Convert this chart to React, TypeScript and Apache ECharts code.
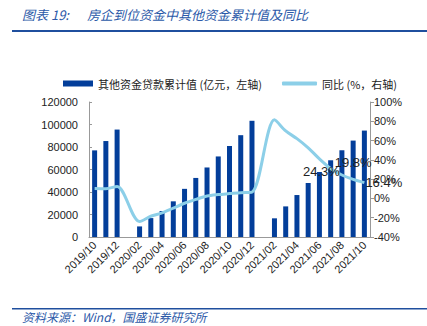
import React, { useEffect, useRef } from "react";
import * as echarts from "echarts";

const categories = [
  "2019/10", "2019/11", "2019/12", "2020/01", "2020/02", "2020/03", "2020/04",
  "2020/05", "2020/06", "2020/07", "2020/08", "2020/09", "2020/10", "2020/11",
  "2020/12", "2021/01", "2021/02", "2021/03", "2021/04", "2021/05", "2021/06",
  "2021/07", "2021/08", "2021/09", "2021/10",
];

const cumulativeValues: (number | null)[] = [
  77000, 85300, 95500, null, 9400, 16800, 23100, 31700, 42800, 52500, 61800,
  71600, 80900, 90500, 103300, null, 16600, 27200, 37300, 48000, 57800, 68200,
  77100, 85700, 94600,
];

const yoyValues: (number | null)[] = [
  10.2, 10, 12.5, null, -24, -18.5, -15, -10, -5, -1, 2.5, 4, 5, 6, 6.5, null,
  81.5, 70, 62, 52.5, 41, 31, 24.3, 19.8, 16.4,
];

const barName = "其他资金贷款累计值 (亿元，左轴)";
const lineName = "同比 (%，右轴)";
const titleLabel = "图表 19:";
const titleText = "房企到位资金中其他资金累计值及同比";
const sourceText = "资料来源：Wind，国盛证券研究所";

const labelPositions: Record<number, string> = { 22: "left", 23: "top", 24: "right" };

export default function App() {
  const ref = useRef<HTMLDivElement>(null);
  useEffect(() => {
    if (!ref.current) return;
    const chart = echarts.init(ref.current, null, { renderer: "svg" });
    const cjk = '"Noto Sans CJK SC", sans-serif';
    const latin = "Liberation Sans, Arial, sans-serif";
    const lineData = yoyValues.map((v, i) =>
      labelPositions[i]
        ? {
            value: v,
            label: {
              show: true,
              position: labelPositions[i] as any,
              distance: i === 23 ? 10 : i === 22 ? 2 : 1,
              offset: i === 22 ? [0, -3] : [0, 0],
              formatter: (p: any) => `${Number(p.value).toFixed(1)}%`,
              fontSize: 13,
              color: "#222",
              fontFamily: latin,
            },
          }
        : v
    );
    chart.setOption({
      animation: false,
      backgroundColor: "#fff",
      textStyle: { fontFamily: cjk },
      graphic: [
        {
          type: "text",
          left: 22,
          top: 8,
          style: {
            text: titleLabel,
            fill: "#2b59a8",
            font: 'italic 13px "Noto Sans CJK SC", sans-serif',
          },
        },
        {
          type: "text",
          left: 87,
          top: 8,
          style: {
            text: titleText,
            fill: "#2b59a8",
            font: 'italic 13px "Noto Sans CJK SC", sans-serif',
          },
        },
        {
          type: "rect",
          shape: { x: 12, y: 30, width: 415, height: 2 },
          style: { fill: "#1f4f9e" },
        },
        {
          type: "rect",
          shape: { x: 12, y: 308, width: 415, height: 1.5 },
          style: { fill: "#1f4f9e" },
        },
        {
          type: "text",
          left: 22,
          top: 310,
          style: {
            text: sourceText,
            fill: "#2b59a8",
            font: 'italic 12px "Noto Sans CJK SC", sans-serif',
          },
        },
      ],
      legend: [
        {
          data: [barName],
          left: 58,
          top: 73,
          icon: "rect",
          itemWidth: 30,
          itemHeight: 6,
          itemGap: 4,
          textStyle: { fontSize: 11, color: "#222", fontFamily: cjk },
        },
        {
          data: [lineName],
          left: 277,
          top: 73,
          icon: "roundRect",
          itemWidth: 35,
          itemHeight: 4,
          textStyle: { fontSize: 11, color: "#222", fontFamily: cjk },
        },
      ],
      grid: { left: 89, right: 57, top: 102, bottom: 89, containLabel: false },
      xAxis: {
        type: "category",
        data: categories,
        boundaryGap: true,
        axisLine: { lineStyle: { color: "#999" } },
        axisTick: { show: false },
        axisLabel: {
          interval: 1,
          rotate: 45,
          fontSize: 11,
          color: "#222",
          margin: 6,
          fontFamily: latin,
        },
      },
      yAxis: [
        {
          type: "value",
          min: 0,
          max: 120000,
          interval: 20000,
          axisLine: { show: true, lineStyle: { color: "#999" } },
          axisTick: { show: true, inside: true, length: 3, lineStyle: { color: "#999" } },
          splitLine: { show: false },
          axisLabel: {
            formatter: (v: number) => String(v),
            fontSize: 11,
            color: "#222",
            margin: 11,
            fontFamily: latin,
          },
        },
        {
          type: "value",
          min: -40,
          max: 100,
          interval: 20,
          position: "right",
          axisLine: { show: true, lineStyle: { color: "#999" } },
          axisTick: { show: true, length: 4, lineStyle: { color: "#999" } },
          splitLine: { show: false },
          axisLabel: {
            formatter: "{value}%",
            fontSize: 11,
            color: "#222",
            margin: 4,
            fontFamily: latin,
          },
        },
      ],
      series: [
        {
          name: barName,
          type: "bar",
          data: cumulativeValues,
          barWidth: 5,
          itemStyle: { color: "#033e9a" },
          yAxisIndex: 0,
        },
        {
          name: lineName,
          type: "line",
          data: lineData,
          yAxisIndex: 1,
          smooth: 0.3,
          connectNulls: true,
          showSymbol: true,
          symbol: "circle",
          symbolSize: 0,
          lineStyle: { width: 3, color: "#8ccfe8" },
          itemStyle: { color: "#8ccfe8" },
          z: 3,
        },
      ],
    });
    return () => chart.dispose();
  }, []);
  return <div ref={ref} style={{ width: 427, height: 326, position: "absolute", left: 0, top: 0 }} />;
}
